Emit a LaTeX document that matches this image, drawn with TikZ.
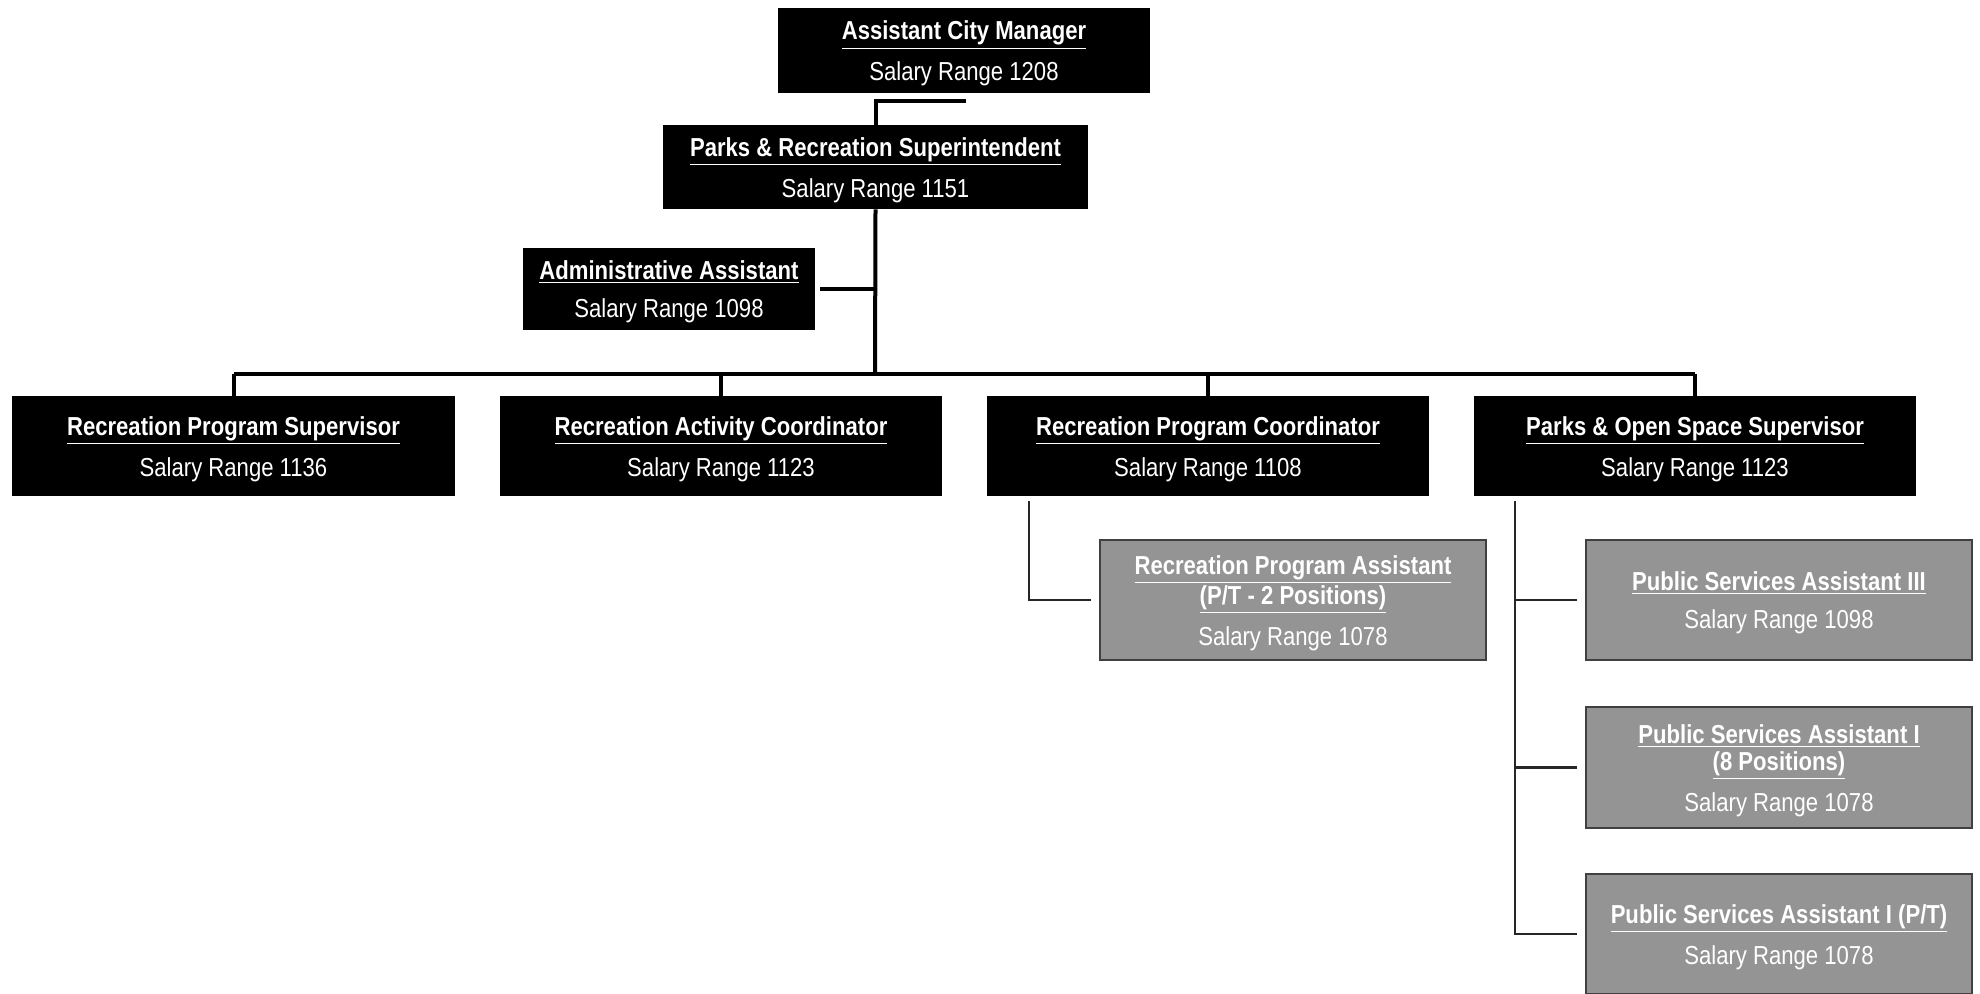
\documentclass[tikz,border=0pt]{standalone}
\usepackage{fontspec}
\setmainfont{Liberation Sans}[FakeStretch=0.85]
\newcommand{\jobttl}[1]{\underline{\textbf{#1}}}
\newcommand{\topstr}{\rule{0pt}{12.5pt}}
\begin{document}
\begin{tikzpicture}[x=0.5pt,y=-0.5pt,
  box/.style={fill=black, text=white, inner sep=0pt, align=center,
    font=\fontsize{13}{13.5}\selectfont},
  grybox/.style={fill=black!42, draw=black!75, line width=0.6pt, text=white, inner sep=0pt, align=center,
    font=\fontsize{13}{13.5}\selectfont, minimum width=193pt},
  mainline/.style={line width=2pt, draw=black},
  subline/.style={line width=1.2pt, draw=black!85}
]
\useasboundingbox (0,0) rectangle (1980,994);

% top
\node[box, minimum width=186pt, minimum height=42.5pt] (acm) at (964,50.5)
  {\topstr\jobttl{Assistant City Manager}\\[5.5pt]Salary Range 1208};
\node[box, minimum width=212.5pt, minimum height=42pt] (prs) at (875.5,167)
  {\topstr\jobttl{Parks \& Recreation Superintendent}\\[5.5pt]Salary Range 1151};
\node[box, minimum width=146pt, minimum height=41pt] (aa) at (669,289)
  {\topstr\jobttl{Administrative Assistant}\\[5.5pt]Salary Range 1098};

% level 2
\node[box, minimum width=221.5pt, minimum height=50pt] (rps) at (233.5,446)
  {\topstr\jobttl{Recreation Program Supervisor}\\[5.5pt]Salary Range 1136};
\node[box, minimum width=221pt, minimum height=50pt] (rac) at (721,446)
  {\topstr\jobttl{Recreation Activity Coordinator}\\[5.5pt]Salary Range 1123};
\node[box, minimum width=221pt, minimum height=50pt] (rpc) at (1208,446)
  {\topstr\jobttl{Recreation Program Coordinator}\\[5.5pt]Salary Range 1108};
\node[box, minimum width=221pt, minimum height=50pt] (poss) at (1695,446)
  {\topstr\jobttl{Parks \& Open Space Supervisor}\\[5.5pt]Salary Range 1123};

% level 3
\node[grybox, minimum height=60pt] (rpa) at (1293,600)
  {\topstr\jobttl{Recreation Program Assistant}\\\jobttl{(P/T - 2 Positions)}\\[5.5pt]Salary Range 1078};
\node[grybox, minimum height=60pt] (psa3) at (1779,600)
  {\topstr\jobttl{Public Services Assistant III}\\[5.5pt]Salary Range 1098};
\node[grybox, minimum height=60.5pt] (psa1) at (1779,767.5)
  {\topstr\jobttl{Public Services Assistant I}\\\jobttl{(8 Positions)}\\[5.5pt]Salary Range 1078};
\node[grybox, minimum height=60pt] (psa1pt) at (1779,934)
  {\topstr\jobttl{Public Services Assistant I (P/T)}\\[5.5pt]Salary Range 1078};

% connectors
\coordinate (acmtail) at (966,101);
\draw[mainline] (acmtail) -| (prs.north);
\coordinate (bus) at (875,374);
\draw[mainline] (prs.south) -- (bus);
\draw[mainline, shorten <=2.5pt] (aa.east) -- (aa.east -| bus);
\draw[mainline] (rps.north |- bus) -- (poss.north |- bus);
\foreach \n in {rps,rac,rpc,poss}
  \draw[mainline] (\n.north |- bus) -- (\n.north);

\coordinate (rpctail) at (1029,501);
\draw[subline, shorten >=4pt] (rpctail) |- (rpa.west);

\coordinate (posstail) at (1515,501);
\draw[subline, shorten >=4pt] (posstail) |- (psa1pt.west);
\draw[subline, shorten >=4pt] (posstail |- psa3.west) -- (psa3.west);
\draw[subline, shorten >=4pt] (posstail |- psa1.west) -- (psa1.west);
\end{tikzpicture}
\end{document}
